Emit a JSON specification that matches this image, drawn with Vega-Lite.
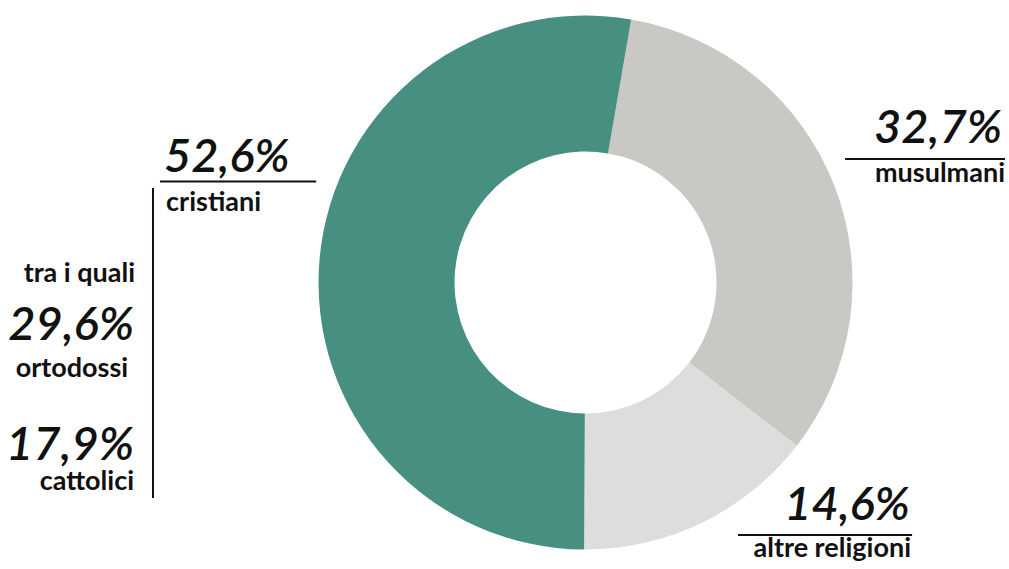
{
  "$schema": "https://vega.github.io/schema/vega-lite/v6.json",
  "width": 1009,
  "height": 569,
  "autosize": {"type": "fit", "contains": "padding"},
  "padding": 0,
  "background": "white",
  "config": {"view": {"stroke": null}, "axis": {"disable": true}},
  "datasets": {
    "religioni": [
      {"gruppo": "musulmani", "quota": 32.7, "ordine": 1},
      {"gruppo": "altre religioni", "quota": 14.6, "ordine": 2},
      {"gruppo": "cristiani", "quota": 52.6, "ordine": 3}
    ],
    "etichette": [
      {"testo": "52,6%", "ruolo": "valore", "lato": "sinistra", "x": -1.579, "y": 0.414},
      {"testo": "cristiani", "ruolo": "nome", "lato": "sinistra", "x": -1.571, "y": 0.268},
      {"testo": "32,7%", "ruolo": "valore", "lato": "destra", "x": 1.560, "y": 0.522},
      {"testo": "musulmani", "ruolo": "nome", "lato": "destra", "x": 1.571, "y": 0.376},
      {"testo": "14,6%", "ruolo": "valore", "lato": "destra", "x": 1.215, "y": -0.890},
      {"testo": "altre religioni", "ruolo": "nome", "lato": "destra", "x": 1.219, "y": -1.028},
      {"testo": "tra i quali", "ruolo": "nome", "lato": "destra", "x": -1.687, "y": 0.0},
      {"testo": "29,6%", "ruolo": "valore", "lato": "destra", "x": -1.691, "y": -0.215},
      {"testo": "ortodossi", "ruolo": "nome", "lato": "destra", "x": -1.713, "y": -0.354},
      {"testo": "17,9%", "ruolo": "valore", "lato": "destra", "x": -1.691, "y": -0.665},
      {"testo": "cattolici", "ruolo": "nome", "lato": "destra", "x": -1.691, "y": -0.777}
    ],
    "linee": [
      {"da_x": -1.594, "a_x": -1.009, "da_y": 0.378, "a_y": 0.378},
      {"da_x": 0.972, "a_x": 1.571, "da_y": 0.4625, "a_y": 0.4625},
      {"da_x": 0.571, "a_x": 1.223, "da_y": -0.946, "a_y": -0.946},
      {"da_x": -1.620, "a_x": -1.620, "da_y": 0.354, "a_y": -0.807}
    ]
  },
  "layer": [
    {
      "data": {"name": "religioni"},
      "mark": {"type": "arc", "outerRadius": 267, "innerRadius": 131, "strokeWidth": 0},
      "encoding": {
        "theta": {"field": "quota", "type": "quantitative", "stack": true, "scale": {"range": [0.172, 6.4552]}},
        "order": {"field": "ordine", "type": "quantitative"},
        "color": {
          "field": "gruppo",
          "type": "nominal",
          "scale": {"domain": ["cristiani", "musulmani", "altre religioni"], "range": ["#468F81", "#C9C8C4", "#DFDDDB"]},
          "legend": null
        },
        "x": {"datum": 0, "type": "quantitative", "scale": {"domain": [-2.193, 1.586], "nice": false, "zero": false}, "axis": null},
        "y": {"datum": 0, "type": "quantitative", "scale": {"domain": [-1.073, 1.058], "nice": false, "zero": false}, "axis": null}
      }
    },
    {
      "data": {"name": "linee"},
      "mark": {"type": "rule", "color": "#111111", "strokeWidth": 2},
      "encoding": {
        "x": {"field": "da_x", "type": "quantitative", "axis": null},
        "x2": {"field": "a_x"},
        "y": {"field": "da_y", "type": "quantitative", "axis": null},
        "y2": {"field": "a_y"}
      }
    },
    {
      "data": {"name": "etichette"},
      "transform": [{"filter": "datum.ruolo === 'valore' && datum.lato === 'sinistra'"}],
      "mark": {"type": "text", "align": "left", "baseline": "alphabetic", "font": "Lato", "fontStyle": "italic", "fontWeight": 600, "fontSize": 47, "color": "#111111"},
      "encoding": {
        "x": {"field": "x", "type": "quantitative", "axis": null},
        "y": {"field": "y", "type": "quantitative", "axis": null},
        "text": {"field": "testo"}
      }
    },
    {
      "data": {"name": "etichette"},
      "transform": [{"filter": "datum.ruolo === 'valore' && datum.lato === 'destra'"}],
      "mark": {"type": "text", "align": "right", "baseline": "alphabetic", "font": "Lato", "fontStyle": "italic", "fontWeight": 600, "fontSize": 47, "color": "#111111"},
      "encoding": {
        "x": {"field": "x", "type": "quantitative", "axis": null},
        "y": {"field": "y", "type": "quantitative", "axis": null},
        "text": {"field": "testo"}
      }
    },
    {
      "data": {"name": "etichette"},
      "transform": [{"filter": "datum.ruolo === 'nome' && datum.lato === 'sinistra'"}],
      "mark": {"type": "text", "align": "left", "baseline": "alphabetic", "font": "Lato", "fontWeight": "bold", "fontSize": 27, "color": "#111111"},
      "encoding": {
        "x": {"field": "x", "type": "quantitative", "axis": null},
        "y": {"field": "y", "type": "quantitative", "axis": null},
        "text": {"field": "testo"}
      }
    },
    {
      "data": {"name": "etichette"},
      "transform": [{"filter": "datum.ruolo === 'nome' && datum.lato === 'destra'"}],
      "mark": {"type": "text", "align": "right", "baseline": "alphabetic", "font": "Lato", "fontWeight": "bold", "fontSize": 27, "color": "#111111"},
      "encoding": {
        "x": {"field": "x", "type": "quantitative", "axis": null},
        "y": {"field": "y", "type": "quantitative", "axis": null},
        "text": {"field": "testo"}
      }
    }
  ]
}
